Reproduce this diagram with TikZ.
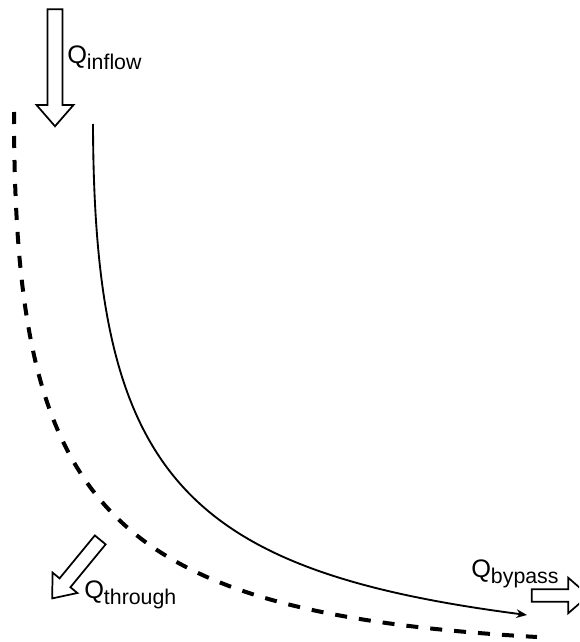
\documentclass[tikz,border=0pt]{standalone}
\usepackage{fontspec}
\setmainfont{Liberation Sans}
\usetikzlibrary{shapes.arrows, arrows.meta, positioning, calc}
\newcommand{\qflow}[1]{Q\raisebox{-4.5pt}{\fontsize{16}{19}\selectfont #1}}
\tikzset{
  blockarrow/.style={single arrow,draw=black,line width=1.3pt,fill=white,
    inner sep=4.6pt,single arrow head extend=7.5pt,single arrow tip angle=80},
  flowlabel/.style={anchor=base west,inner sep=0pt,font=\fontsize{19}{22}\selectfont},
  flowline/.style={line width=1.4pt,draw=black,-{Stealth[length=8pt,width=6.5pt]}},
  seepline/.style={line width=3pt,draw=black,dash pattern=on 9pt off 9pt}
}

\begin{document}
\begin{tikzpicture}[x=0.75pt,y=-0.75pt]
  \clip (0,0) rectangle (579,642);
  \useasboundingbox (0,0) rectangle (579,642);

  % block arrows
  \node[blockarrow, inner sep=4.9pt, single arrow head extend=8.25pt,
    single arrow tip angle=82, minimum height=87.75pt, rotate=-90]
    (inflow) at (55,63.5) {};
  \node[blockarrow, inner sep=4.6pt, single arrow head extend=6.8pt,
    single arrow tip angle=77, minimum height=56.8pt, rotate=-129.4]
    (through) at (79,565.75) {};
  \node[blockarrow, inner sep=4.1pt, single arrow head extend=8.6pt,
    single arrow tip angle=82, minimum height=42.75pt]
    (bypass) at (556.5,595.5) {};

  % labels
  \node[flowlabel] (lin) at (67,64) {\qflow{inflow}};
  \node[flowlabel] (lthr) at (84,598) {\qflow{through}};
  \node[flowlabel] (lby) at (471,577) {\qflow{bypass}};

  % curves
  \coordinate (solidS) at (93,124);
  \coordinate (solidE) at (527,615);
  \coordinate (dashS) at (14,112);
  \coordinate (dashE) at (537,637);

  \draw[flowline] (solidS) .. controls (94,472) and (180,570) .. (solidE);
  \draw[seepline] (dashS) .. controls (14,505) and (100,612) .. (dashE);
\end{tikzpicture}
\end{document}
